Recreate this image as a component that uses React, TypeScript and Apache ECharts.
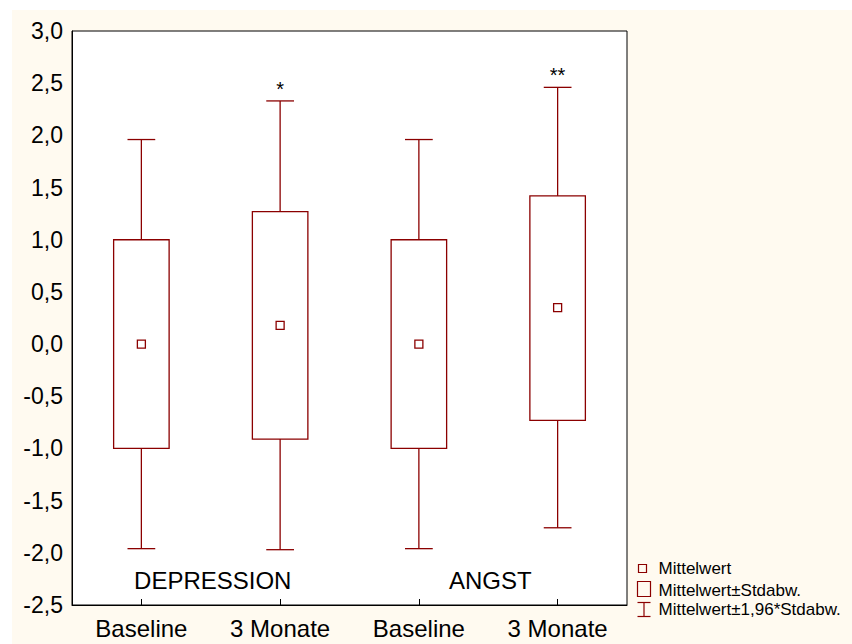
import React, { useEffect, useRef } from 'react';
import * as echarts from 'echarts';

// Mean ± SD boxes with ±1.96*SD whiskers, per group and time point
const categories = ['Baseline', '3 Monate', 'Baseline', '3 Monate'];
const means = [0, 0.18, 0, 0.35];
const sdLow = [-1, -0.91, -1, -0.73];
const sdHigh = [1, 1.27, 1, 1.42];
const ciLow = [-1.96, -1.97, -1.96, -1.76];
const ciHigh = [1.96, 2.33, 1.96, 2.46];
const significance = ['', '*', '', '**'];
const groups = ['DEPRESSION', 'ANGST'];
const groupSpans = [[0, 1], [2, 3]];
const yMin = -2.5;
const yMax = 3;
const yStep = 0.5;

const FONT = "'Liberation Sans', Arial, Helvetica, sans-serif";
const RED = '#8b0000';

export default function App() {
  const ref = useRef<HTMLDivElement>(null);

  useEffect(() => {
    document.body.style.margin = '0';
    if (!ref.current) return;
    const chart = echarts.init(ref.current, undefined, { renderer: 'svg' });

    const statsData = categories.map((_, i) => [i, means[i], sdLow[i], sdHigh[i], ciLow[i], ciHigh[i]]);
    const groupData = groupSpans.map((s) => [s[0], s[1]]);

    chart.setOption({
      animation: false,
      backgroundColor: '#fffaf0',
      grid: {
        left: 60,
        top: 21,
        right: 225,
        bottom: 39,
        show: true,
        backgroundColor: '#ffffff',
        borderColor: '#000000',
        borderWidth: 1,
      },
      xAxis: {
        type: 'category',
        data: categories,
        boundaryGap: true,
        axisLine: { show: true, onZero: false, lineStyle: { color: '#000', width: 1 } },
        axisTick: { show: true, inside: true, alignWithLabel: true, length: 6, lineStyle: { color: '#000' } },
        axisLabel: { fontSize: 24, color: '#000', margin: 11, fontFamily: FONT },
        splitLine: { show: false },
      },
      yAxis: {
        type: 'value',
        min: yMin,
        max: yMax,
        interval: yStep,
        axisLine: { show: true, onZero: false, lineStyle: { color: '#000', width: 1 } },
        axisTick: { show: false },
        splitLine: { show: false },
        axisLabel: {
          fontSize: 23,
          color: '#000',
          margin: 9,
          fontFamily: FONT,
          formatter: (v: number) => (Math.abs(v) < 1e-9 ? 0 : v).toFixed(1).replace('.', ','),
        },
      },
      series: [
        {
          type: 'custom',
          name: 'stats',
          data: statsData,
          encode: { x: 0, y: [1, 2, 3, 4, 5] },
          renderItem: (params: any, api: any) => {
            const i = api.value(0);
            const band = api.size([1, 0])[0];
            const x = api.coord([i, 0])[0];
            const boxW = band * 0.4;
            const capW = band * 0.2;
            const yMean = api.coord([i, api.value(1)])[1];
            const yLo = api.coord([i, api.value(2)])[1];
            const yHi = api.coord([i, api.value(3)])[1];
            const yCiLo = api.coord([i, api.value(4)])[1];
            const yCiHi = api.coord([i, api.value(5)])[1];
            const line = { stroke: RED, lineWidth: 1.3, fill: 'none' };
            const children: any[] = [
              { type: 'line', shape: { x1: x, y1: yHi, x2: x, y2: yCiHi }, style: line },
              { type: 'line', shape: { x1: x - capW / 2, y1: yCiHi, x2: x + capW / 2, y2: yCiHi }, style: line },
              { type: 'line', shape: { x1: x, y1: yLo, x2: x, y2: yCiLo }, style: line },
              { type: 'line', shape: { x1: x - capW / 2, y1: yCiLo, x2: x + capW / 2, y2: yCiLo }, style: line },
              {
                type: 'rect',
                shape: { x: x - boxW / 2, y: yHi, width: boxW, height: yLo - yHi },
                style: { stroke: RED, lineWidth: 1.3, fill: 'none' },
              },
              {
                type: 'rect',
                shape: { x: x - 4, y: yMean - 4, width: 8, height: 8 },
                style: { stroke: RED, lineWidth: 1.3, fill: '#fff' },
              },
            ];
            const mark = significance[params.dataIndex];
            if (mark) {
              children.push({
                type: 'text',
                style: {
                  text: mark,
                  x,
                  y: yCiHi - 2,
                  align: 'center',
                  verticalAlign: 'bottom',
                  fontSize: 20,
                  fontFamily: FONT,
                  fill: '#000',
                },
              });
            }
            return { type: 'group', children };
          },
          z: 3,
        },
        {
          type: 'custom',
          name: 'groups',
          data: groupData,
          encode: { x: [0, 1] },
          renderItem: (params: any, api: any) => {
            const p0 = api.coord([api.value(0), yMin]);
            const p1 = api.coord([api.value(1), yMin]);
            return {
              type: 'text',
              style: {
                text: groups[params.dataIndex],
                x: (p0[0] + p1[0]) / 2 + 2,
                y: p0[1] - 25,
                align: 'center',
                verticalAlign: 'middle',
                fontSize: 24,
                fontFamily: FONT,
                fill: '#000',
              },
            };
          },
          z: 3,
        },
      ],
      graphic: [
        {
          type: 'group',
          left: 623,
          top: 550,
          children: [
            { type: 'rect', shape: { x: 1, y: 2, width: 8, height: 8 }, style: { stroke: RED, lineWidth: 1.2, fill: 'none' } },
            { type: 'text', style: { text: 'Mittelwert', x: 21, y: 6, verticalAlign: 'middle', fontSize: 17, fontFamily: FONT, fill: '#000' } },
            { type: 'rect', shape: { x: 0, y: 19, width: 13, height: 15 }, style: { stroke: RED, lineWidth: 1.2, fill: 'none' } },
            { type: 'text', style: { text: 'Mittelwert±Stdabw.', x: 21, y: 28, verticalAlign: 'middle', fontSize: 17, fontFamily: FONT, fill: '#000' } },
            { type: 'line', shape: { x1: 0, y1: 40, x2: 13, y2: 40 }, style: { stroke: RED, lineWidth: 1.2 } },
            { type: 'line', shape: { x1: 6.5, y1: 40, x2: 6.5, y2: 54 }, style: { stroke: RED, lineWidth: 1.2 } },
            { type: 'line', shape: { x1: 0, y1: 54, x2: 13, y2: 54 }, style: { stroke: RED, lineWidth: 1.2 } },
            { type: 'text', style: { text: 'Mittelwert±1,96*Stdabw.', x: 21, y: 47, verticalAlign: 'middle', fontSize: 17, fontFamily: FONT, fill: '#000' } },
          ],
        },
      ],
    });

    return () => chart.dispose();
  }, []);

  return (
    <div style={{ width: 852, height: 644, background: '#ffffff', position: 'relative', overflow: 'hidden' }}>
      <div ref={ref} style={{ position: 'absolute', left: 12, top: 10, width: 840, height: 634 }} />
    </div>
  );
}
